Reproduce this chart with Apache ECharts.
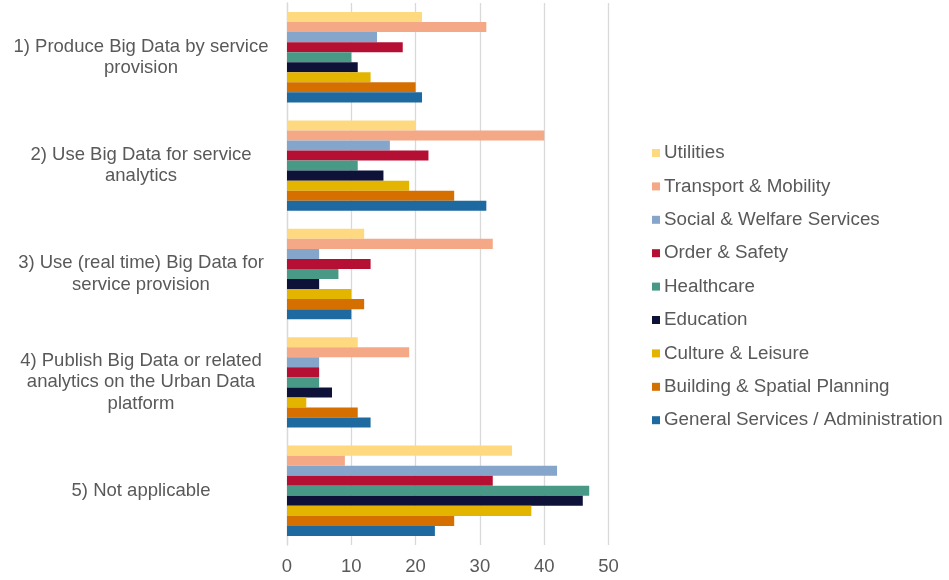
<!DOCTYPE html>
<html>
<head>
<meta charset="utf-8">
<script src="https://cdn.jsdelivr.net/npm/echarts@6/dist/echarts.min.js"></script>
<style>
  html, body { margin: 0; padding: 0; background: #ffffff; }
  #chart { width: 949px; height: 580px; }
</style>
</head>
<body>
<div id="chart"></div>
<script>
// Survey purposes (y categories, top to bottom)
const categories = [
  '1) Produce Big Data by service\nprovision',
  '2) Use Big Data for service\nanalytics',
  '3) Use (real time) Big Data for\nservice provision',
  '4) Publish Big Data or related\nanalytics on the Urban Data\nplatform',
  '5) Not applicable'
];

// Domain series, one value per category
const utilities        = [21, 20, 12, 11, 35];
const transport        = [31, 40, 32, 19, 9];
const socialWelfare    = [14, 16, 5, 5, 42];
const orderSafety      = [18, 22, 13, 5, 32];
const healthcare       = [10, 11, 8, 5, 47];
const education        = [11, 15, 5, 7, 46];
const cultureLeisure   = [13, 19, 10, 3, 38];
const buildingPlanning = [20, 26, 12, 11, 26];
const generalServices  = [21, 31, 10, 13, 23];

const xTicks = [0, 10, 20, 30, 40, 50];

const seriesDefs = [
  { name: 'Utilities', data: utilities, color: '#FFD97F' },
  { name: 'Transport & Mobility', data: transport, color: '#F4A886' },
  { name: 'Social & Welfare Services', data: socialWelfare, color: '#86A5CB' },
  { name: 'Order & Safety', data: orderSafety, color: '#B51034' },
  { name: 'Healthcare', data: healthcare, color: '#489A86' },
  { name: 'Education', data: education, color: '#0E1238' },
  { name: 'Culture & Leisure', data: cultureLeisure, color: '#E3B500' },
  { name: 'Building & Spatial Planning', data: buildingPlanning, color: '#D46F00' },
  { name: 'General Services / Administration', data: generalServices, color: '#1D69A0' }
];

const FONT = '"Liberation Sans", Arial, sans-serif';
const TEXT = '#595959';

const chart = echarts.init(document.getElementById('chart'), null, { renderer: 'canvas' });
chart.setOption({
  animation: false,
  backgroundColor: '#ffffff',
  grid: { left: 287, right: 340.5, top: 3, bottom: 35, containLabel: false },
  legend: {
    orient: 'vertical',
    left: 647,
    top: 138,
    icon: 'rect',
    itemWidth: 8,
    itemHeight: 8,
    itemGap: 13.4,
    textStyle: { fontFamily: FONT, fontSize: 18.8, color: TEXT, lineHeight: 20, padding: [0, 0, 0, -1] },
    data: seriesDefs.map(s => s.name)
  },
  xAxis: {
    type: 'value',
    min: xTicks[0],
    max: xTicks[xTicks.length - 1],
    interval: 10,
    axisLine: { show: false },
    axisTick: { show: false },
    splitLine: { lineStyle: { color: '#d9d9d9', width: 1.3 } },
    axisLabel: { fontFamily: FONT, fontSize: 18.5, color: TEXT, margin: 12 }
  },
  yAxis: {
    type: 'category',
    inverse: true,
    data: categories,
    axisLine: { lineStyle: { color: '#d9d9d9', width: 1.3 } },
    axisTick: { show: false },
    axisLabel: {
      fontFamily: FONT, fontSize: 18.5, color: TEXT,
      align: 'center', margin: 146, lineHeight: 21.5
    }
  },
  series: seriesDefs.map(s => ({
    name: s.name,
    type: 'bar',
    data: s.data,
    barGap: '0%',
    barCategoryGap: '16.6%',
    itemStyle: { color: s.color }
  }))
});
</script>
</body>
</html>
